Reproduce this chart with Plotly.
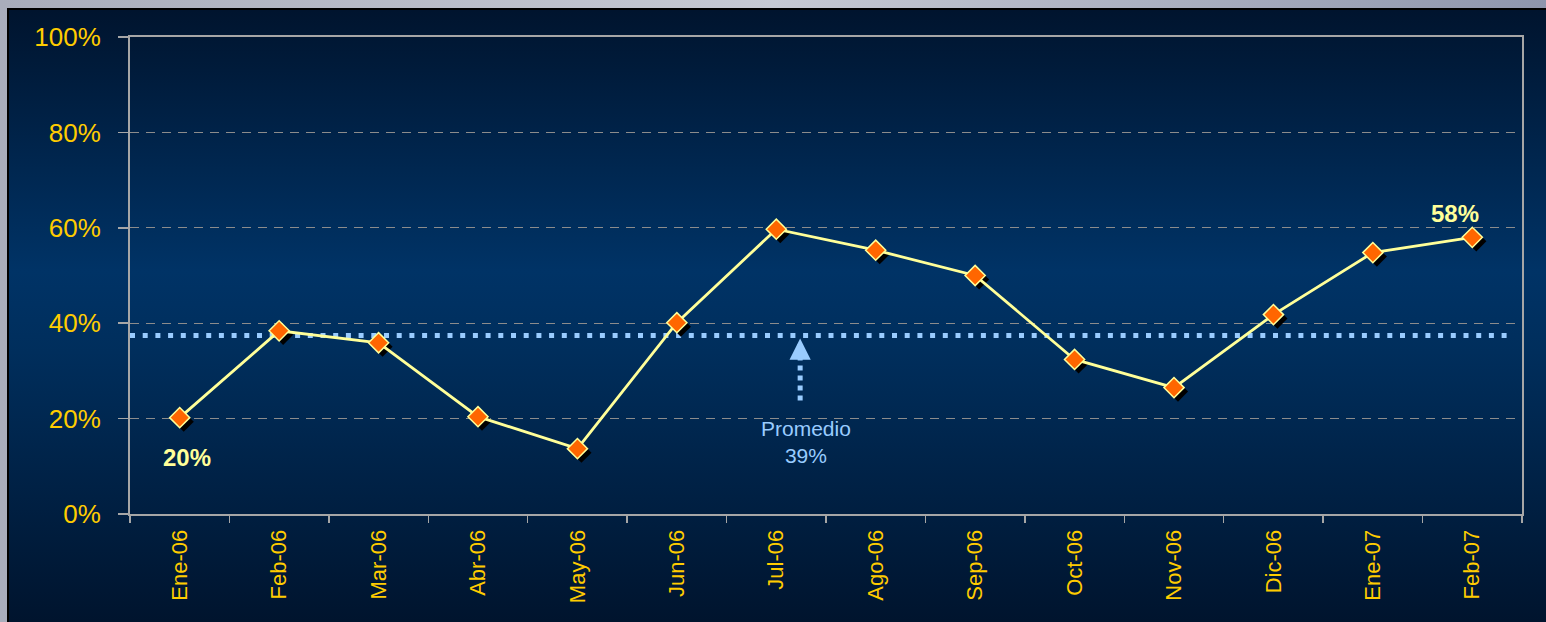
import base64
import plotly.graph_objects as go

# ---- data ----
months = ["Ene-06", "Feb-06", "Mar-06", "Abr-06", "May-06", "Jun-06", "Jul-06",
          "Ago-06", "Sep-06", "Oct-06", "Nov-06", "Dic-06", "Ene-07", "Feb-07"]
values = [20.2, 38.4, 35.9, 20.4, 13.7, 40.1, 59.7, 55.3, 50.0, 32.4, 26.5, 41.8, 54.8, 58.0]
avg_line = 37.4          # position of dotted average line as drawn
avg_label = "Promedio<br>39%"
y_ticks = [0, 20, 40, 60, 80, 100]
y_ticktext = [f"{v}%" for v in y_ticks]

W, H = 1546, 622
L, R, T, B = 130, 24, 37, 108
PW, PH = W - L - R, H - T - B

# ---- background (slide border + gradient panel) ----
svg = f'''<svg xmlns="http://www.w3.org/2000/svg" width="{W}" height="{H}" viewBox="0 0 {W} {H}" preserveAspectRatio="none">
<defs>
<linearGradient id="g" x1="0" y1="0" x2="0" y2="1">
<stop offset="0" stop-color="#00142e"/>
<stop offset="0.42" stop-color="#003366"/>
<stop offset="0.55" stop-color="#002e5c"/>
<stop offset="1" stop-color="#00132c"/>
</linearGradient>
<linearGradient id="m" x1="0" y1="0" x2="1" y2="0">
<stop offset="0" stop-color="#a9adbb"/>
<stop offset="0.5" stop-color="#c6c9d3"/>
<stop offset="1" stop-color="#8f96ad"/>
</linearGradient>
</defs>
<rect width="{W}" height="{H}" fill="url(#m)"/>
<rect x="7" y="8" width="{W}" height="{H}" fill="#000000"/>
<rect x="9" y="10" width="{W}" height="{H}" fill="url(#g)"/>
</svg>'''
src = "data:image/svg+xml;base64," + base64.b64encode(svg.encode()).decode()

fig = go.Figure()

# shadow markers (overlay axes shifted by a few pixels)
fig.add_trace(go.Scatter(
    x=months, y=values, xaxis="x2", yaxis="y2", mode="markers",
    marker=dict(symbol="diamond", size=15.5, color="#000000",
                line=dict(width=0)),
    hoverinfo="skip", showlegend=False))

# main series
fig.add_trace(go.Scatter(
    x=months, y=values, xaxis="x3", yaxis="y3", mode="lines+markers",
    line=dict(color="#FFFF99", width=2.8),
    marker=dict(symbol="diamond", size=15.5, color="#FF6600",
                line=dict(color="#FFFF99", width=1.5)),
    showlegend=False))

px_x = PW / len(months)
px_y = PH / 100.0
sx = 4 / px_x
sy = 4 / px_y

font_fam = "Liberation Sans, Arial, sans-serif"

fig.update_layout(
    width=W, height=H,
    margin=dict(l=L, r=R, t=T, b=B, pad=0),
    paper_bgcolor="#00142e",
    plot_bgcolor="rgba(0,0,0,0)",
    font=dict(family=font_fam),
    showlegend=False,
    xaxis=dict(
        type="category", categoryorder="array", categoryarray=months,
        range=[-0.5, len(months) - 0.5],
        showline=True, linecolor="#A6A6A6", linewidth=2, mirror=True,
        ticks="outside", tickson="boundaries", ticklen=7, tickwidth=1.5,
        tickcolor="#A6A6A6", tickangle=-90,
        tickfont=dict(color="#FFCC00", size=22, family=font_fam),
        ticklabelstandoff=5,
        showgrid=False, zeroline=False, fixedrange=True,
    ),
    yaxis=dict(
        range=[0, 100], tickmode="array", tickvals=y_ticks, ticktext=y_ticktext,
        showline=True, linecolor="#A6A6A6", linewidth=2, mirror=True,
        ticks="outside", ticklen=10, tickwidth=1.5, tickcolor="#A6A6A6",
        tickfont=dict(color="#FFCC00", size=26, family=font_fam),
        ticklabelstandoff=12,
        showgrid=True, gridcolor="#8C8C8C", gridwidth=1, griddash="9px,7px",
        zeroline=False, fixedrange=True,
    ),
    xaxis2=dict(type="category", categoryorder="array", categoryarray=months,
                overlaying="x", range=[-0.5 - sx, len(months) - 0.5 - sx],
                visible=False, fixedrange=True),
    yaxis2=dict(overlaying="y", range=[0 + sy, 100 + sy], visible=False,
                fixedrange=True),
    xaxis3=dict(type="category", categoryorder="array", categoryarray=months,
                overlaying="x", range=[-0.5, len(months) - 0.5],
                visible=False, fixedrange=True),
    yaxis3=dict(overlaying="y", range=[0, 100], visible=False,
                fixedrange=True),
    images=[dict(source=src, xref="paper", yref="paper",
                 x=-L / PW, y=1 + T / PH, sizex=W / PW, sizey=H / PH,
                 xanchor="left", yanchor="top", sizing="stretch",
                 layer="below")],
)

# dotted average line
fig.add_shape(type="line", xref="paper", yref="y", x0=0, x1=(1512 - L) / PW,
              y0=avg_line, y1=avg_line,
              line=dict(color="#99CCFF", width=5, dash="5px,7.7px"),
              layer="below")

# arrow stem (dashed) and head
arrow_x = 6.24
fig.add_shape(type="line", xref="x", yref="y", x0=arrow_x, x1=arrow_x,
              y0=23.8, y1=33.6,
              line=dict(color="#99CCFF", width=5, dash="5px,5px"))
fig.add_annotation(x=arrow_x, y=avg_line - 0.6, xref="x", yref="y",
                   ax=0, ay=15, axref="pixel", ayref="pixel", text="",
                   showarrow=True, arrowhead=2, arrowsize=0.85, arrowwidth=5,
                   arrowcolor="#99CCFF", standoff=0)
fig.add_annotation(x=6.3, y=15.2, xref="x", yref="y", text=avg_label,
                   showarrow=False,
                   font=dict(color="#99CCFF", size=21, family=font_fam))

# data labels for first and last points
fig.add_annotation(x=months[0], y=values[0], xref="x", yref="y",
                   text=f"<b>{round(values[0])}%</b>", showarrow=False,
                   xshift=7, yshift=-40,
                   font=dict(color="#FFFF99", size=24, family=font_fam))
fig.add_annotation(x=months[-1], y=values[-1], xref="x", yref="y",
                   text=f"<b>{round(values[-1])}%</b>", showarrow=False,
                   xshift=-17, yshift=24,
                   font=dict(color="#FFFF99", size=24, family=font_fam))

page_js = ("document.body.style.margin='0';"
           "document.documentElement.style.overflow='hidden';"
           "document.body.style.overflow='hidden';"
           "document.body.style.background='#00132c';")

fig.write_html("out.html", post_script=page_js,
               config={"displayModeBar": False, "staticPlot": True})
